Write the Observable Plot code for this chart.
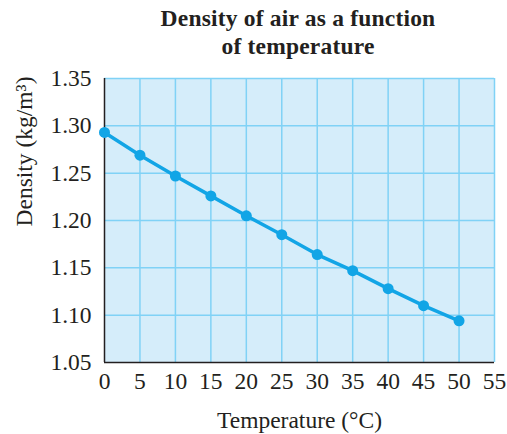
<!DOCTYPE html>
<html>
<head>
<meta charset="utf-8">
<script src="https://cdn.jsdelivr.net/npm/d3@7"></script>
<script src="https://cdn.jsdelivr.net/npm/@observablehq/plot@0.6"></script>
<style>
  html, body { margin: 0; padding: 0; background: #fff; }
  #title {
    width: 507px; box-sizing: border-box; padding-left: 89px; height: 62px;
    text-align: center; font-family: "Liberation Serif", "Times New Roman", serif;
    font-weight: bold; font-size: 23.5px; line-height: 27.5px; color: #231f20;
    padding-top: 5px; letter-spacing: 0.2px;
  }
</style>
</head>
<body>
<div id="title">Density of air as a function<br>of temperature</div>
<div id="chart"></div>
<script>
const temperatures = [0, 5, 10, 15, 20, 25, 30, 35, 40, 45, 50];
const densities = [1.293, 1.269, 1.247, 1.226, 1.205, 1.185, 1.164, 1.147, 1.128, 1.110, 1.094];
const xTicks = [0, 5, 10, 15, 20, 25, 30, 35, 40, 45, 50, 55];
const yTicks = [1.05, 1.10, 1.15, 1.20, 1.25, 1.30, 1.35];
const xLabel = "Temperature (°C)";
const yLabel = "Density (kg/m³)";

const data = temperatures.map((t, i) => ({t, d: densities[i]}));
const gridColor = "#80d2f6";
const lineColor = "#12a5e6";
const font = "Liberation Serif, Times New Roman, serif";

const chart = Plot.plot({
  width: 507,
  height: 372,
  marginTop: 16,
  marginBottom: 72,
  marginLeft: 104,
  marginRight: 13,
  style: {fontFamily: font, fontSize: "23.5px", color: "#231f20", background: "white"},
  x: {domain: [0, 55]},
  y: {domain: [1.05, 1.35]},
  marks: [
    Plot.frame({fill: "#d5edfa", stroke: null}),
    Plot.ruleX(xTicks.slice(1), {stroke: gridColor, strokeWidth: 1.5}),
    Plot.ruleY(yTicks.slice(1), {stroke: gridColor, strokeWidth: 1.5}),
    Plot.ruleX([0], {stroke: "#231f20", strokeWidth: 1.5}),
    Plot.ruleY([1.05], {stroke: "#231f20", strokeWidth: 1.5}),
    Plot.axisX({ticks: xTicks, tickSize: 0, tickPadding: 10, fontSize: 23.5, label: null}),
    Plot.axisY({ticks: yTicks, tickSize: 0, tickPadding: 13, fontSize: 23.5, tickFormat: d3.format(".2f"), label: null}),
    Plot.text([xLabel], {frameAnchor: "bottom", dy: 65, fontSize: 23.5, lineAnchor: "bottom", fill: "#231f20"}),
    Plot.text([yLabel], {frameAnchor: "left", dx: -73, dy: 6, rotate: -90, fontSize: 23.5, lineAnchor: "bottom", fill: "#231f20"}),
    Plot.line(data, {x: "t", y: "d", stroke: lineColor, strokeWidth: 3.5}),
    Plot.dot(data, {x: "t", y: "d", r: 5.5, fill: lineColor, stroke: null})
  ]
});
document.getElementById("chart").appendChild(chart);
</script>
</body>
</html>
